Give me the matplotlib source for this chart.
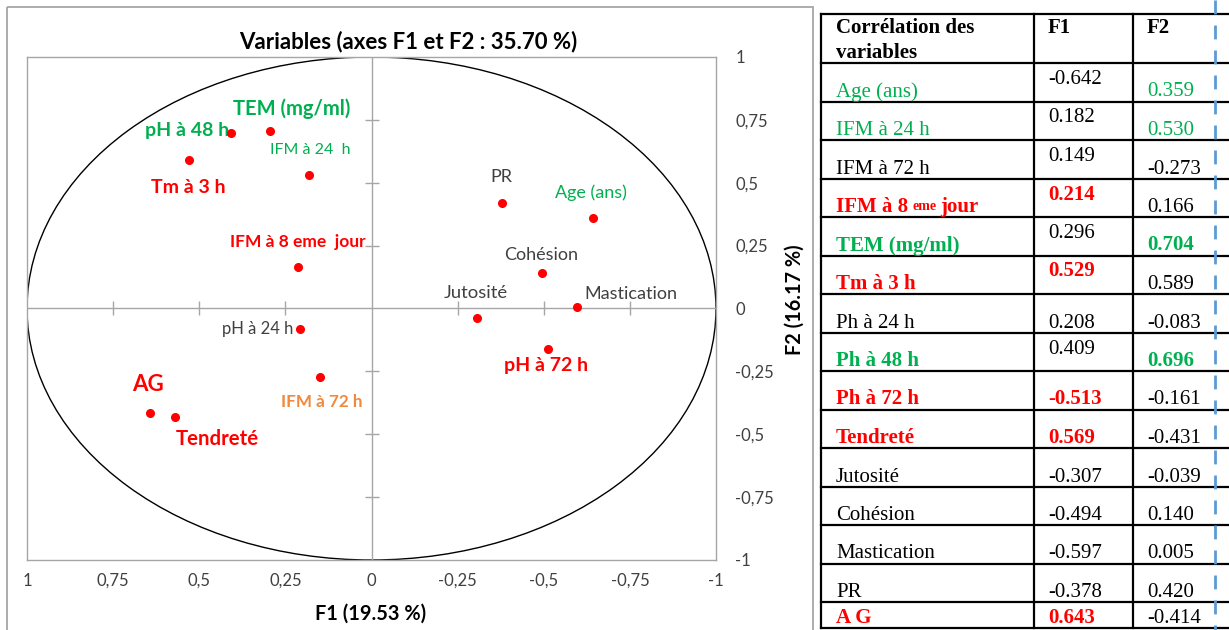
import matplotlib
matplotlib.use('Agg')
import matplotlib.pyplot as plt
from matplotlib.patches import Circle, Rectangle
from matplotlib.ticker import FuncFormatter

# correlations of each variable with the first two factors
variables = ["Age (ans)", "IFM à 24 h", "IFM à 72 h", "IFM à 8 eme jour", "TEM (mg/ml)",
             "Tm à 3 h", "Ph à 24 h", "Ph à 48 h", "Ph à 72 h", "Tendreté",
             "Jutosité", "Cohésion", "Mastication", "PR", "A G"]
point_labels = ["Age (ans)", "IFM à 24  h", "IFM à 72 h", "IFM à 8 eme  jour", "TEM (mg/ml)",
                "Tm à 3 h", "pH à 24 h", "pH à 48 h", "pH à 72 h", "Tendreté",
                "Jutosité", "Cohésion", "Mastication", "PR", "AG"]
f1 = [-0.642, 0.182, 0.149, 0.214, 0.296, 0.529, 0.208, 0.409, -0.513, 0.569,
      -0.307, -0.494, -0.597, -0.378, 0.643]
f2 = [0.359, 0.530, -0.273, 0.166, 0.704, 0.589, -0.083, 0.696, -0.161, -0.431,
      -0.039, 0.140, 0.005, 0.420, -0.414]
ticks = [-1, -0.75, -0.5, -0.25, 0, 0.25, 0.5, 0.75, 1]

RED = '#FF0000'
GREEN = '#00B050'
ORANGE = '#F0883E'
GREY = '#404040'
FRAME = '#A6A6A6'

# label style on the circle: colour, bold, size, offset in pixels
label_style = [
    (GREEN, False, 13, (-2, 25)),
    (GREEN, False, 11.5, (1, 25)),
    (ORANGE, True, 12.3, (2, -25)),
    (RED, True, 12.5, (0, 25)),
    (GREEN, True, 14.5, (22, 23)),
    (RED, True, 14, (-1, -27)),
    (GREY, False, 12, (-42, 0)),
    (GREEN, True, 14, (-43, 3)),
    (RED, True, 14, (-2, -17)),
    (RED, True, 14.7, (42, -22)),
    (GREY, False, 13.3, (-1, 25)),
    (GREY, False, 13, (-1, 18)),
    (GREY, False, 13, (54, 13)),
    (GREY, False, 13, (0, 26)),
    (RED, True, 16, (-2, 28)),
]

# table cell styles: (colour, bold) for the name, (colour, bold, valign) for F1 and F2
name_style = [(GREEN, False), (GREEN, False), ('k', False), (RED, True), (GREEN, True),
              (RED, True), ('k', False), (GREEN, True), (RED, True), (RED, True),
              ('k', False), ('k', False), ('k', False), ('k', False), (RED, True)]
f1_style = [('k', False, 'top'), ('k', False, 'top'), ('k', False, 'top'), (RED, True, 'top'),
            ('k', False, 'top'), (RED, True, 'top'), ('k', False, 'bot'), ('k', False, 'top'),
            (RED, True, 'bot'), (RED, True, 'bot'), ('k', False, 'bot'), ('k', False, 'bot'),
            ('k', False, 'bot'), ('k', False, 'bot'), (RED, True, 'bot')]
f2_style = [(GREEN, False, 'bot'), (GREEN, False, 'bot'), ('k', False, 'bot'), ('k', False, 'bot'),
            (GREEN, True, 'bot'), ('k', False, 'bot'), ('k', False, 'bot'), (GREEN, True, 'bot'),
            ('k', False, 'bot'), ('k', False, 'bot'), ('k', False, 'bot'), ('k', False, 'bot'),
            ('k', False, 'bot'), ('k', False, 'bot'), ('k', False, 'bot')]

W, H = 1229, 630
fig = plt.figure(figsize=(W / 100, H / 100), dpi=100)
plt.rcParams['font.family'] = ['Lato', 'DejaVu Sans']

# pixel overlay for the frame and the table
over = fig.add_axes([0, 0, 1, 1])
over.set_xlim(0, W)
over.set_ylim(H, 0)
over.axis('off')
over.add_patch(Rectangle((7, 7), 806, 650, fill=False, edgecolor=FRAME, lw=1.3, clip_on=False))

# correlation circle
ax = fig.add_axes([27 / W, (H - 560) / H, (716 - 27) / W, (560 - 57) / H])
ax.set_xlim(1, -1)
ax.set_ylim(-1, 1)
for s in ax.spines.values():
    s.set_color(FRAME)
    s.set_linewidth(1)
ax.add_patch(Circle((0, 0), 1, fill=False, edgecolor='black', lw=1))
ax.axhline(0, color=FRAME, lw=1)
ax.axvline(0, color=FRAME, lw=1)
inner = [t for t in ticks if t not in (-1, 0, 1)]
ax.plot(inner, [0] * len(inner), ls='none', marker='|', ms=10, mew=1, color=FRAME)
ax.plot([0] * len(inner), inner, ls='none', marker='_', ms=10, mew=1, color=FRAME)

fmt = FuncFormatter(lambda v, p: ('%g' % v).replace('.', ',') if v != 0 else '0')
ax.set_xticks(ticks)
ax.set_yticks(ticks)
ax.xaxis.set_major_formatter(fmt)
ax.yaxis.set_major_formatter(fmt)
ax.yaxis.tick_right()
ax.tick_params(axis='x', length=0, labelsize=12, labelcolor=GREY, pad=9)
ax.tick_params(axis='y', length=0, labelsize=12, labelcolor=GREY, pad=14)

ax.plot(f1, f2, 'o', color=RED, ms=5.5, zorder=5)
for x, y, lab, (c, b, fs, off) in zip(f1, f2, point_labels, label_style):
    ax.annotate(lab, (x, y), xytext=off, textcoords='offset pixels', ha='center', va='center',
                color=c, fontsize=fs, fontweight='bold' if b else 'normal')

fig.text(408 / W, 1 - 42 / H, "Variables (axes F1 et F2 : 35.70 %)", ha='center', va='center',
         fontsize=16, fontweight='bold', color='black')
fig.text(371 / W, 1 - 614 / H, "F1 (19.53 %)", ha='center', va='center',
         fontsize=14.3, fontweight='bold', color='black')
fig.text(795 / W, 1 - 300 / H, "F2 (16.17 %)", ha='center', va='center', rotation=90,
         fontsize=14.3, fontweight='bold', color='black')

# table of correlations
serif = ['Liberation Serif', 'DejaVu Serif']
tfs = 15
col_x = [821, 1034, 1133, W + 5]
text_x = [836, 1048, 1147]
row_h = 38.5
row_y = [14, 63] + [63 + row_h * (i + 1) for i in range(len(variables) - 1)] + [628]
for y in row_y:
    over.plot([col_x[0], col_x[-1]], [y, y], color='black', lw=1.6, clip_on=False)
for x in col_x[:-1]:
    over.plot([x, x], [row_y[0], row_y[-1]], color='black', lw=1.6)

over.text(text_x[0], 33, "Corrélation des", family=serif, fontsize=tfs, fontweight='bold', va='baseline')
over.text(text_x[0], 58, "variables", family=serif, fontsize=tfs, fontweight='bold', va='baseline')
over.text(text_x[1], 33, "F1", family=serif, fontsize=tfs, fontweight='bold', va='baseline')
over.text(text_x[2], 33, "F2", family=serif, fontsize=tfs, fontweight='bold', va='baseline')


def cell_base(i, where):
    top, bot = row_y[i + 1], row_y[i + 2]
    return top + 21 if where == 'top' else bot - 5


for i, name in enumerate(variables):
    c, b = name_style[i]
    w = 'bold' if b else 'normal'
    yb = cell_base(i, 'bot')
    if 'eme' in name:
        head, tail = name.split(' eme ')
        t1 = over.text(text_x[0], yb, head, family=serif, fontsize=tfs, fontweight=w,
                       color=c, va='baseline')
        t2 = over.annotate('eme', xy=(1, 1), xycoords=t1, xytext=(3, -2), textcoords='offset points',
                           family=serif, fontsize=10, fontweight=w, color=c, va='top', ha='left')
        over.annotate(tail, xy=(1, 0), xycoords=(t2, t1), xytext=(3, 0), textcoords='offset points',
                      family=serif, fontsize=tfs, fontweight=w, color=c, va='bottom', ha='left')
    else:
        over.text(text_x[0], yb, name, family=serif, fontsize=tfs, fontweight=w, color=c,
                  va='baseline')
    for col, (vals, st) in enumerate(((f1, f1_style), (f2, f2_style)), start=1):
        c, b, where = st[i]
        over.text(text_x[col], cell_base(i, where), '%.3f' % vals[i], family=serif, fontsize=tfs,
                  fontweight='bold' if b else 'normal', color=c, va='baseline')

over.plot([1215, 1215], [0, H], color='#5B9BD5', lw=2, dashes=(5, 4))

fig.savefig('out.png', dpi=100)
